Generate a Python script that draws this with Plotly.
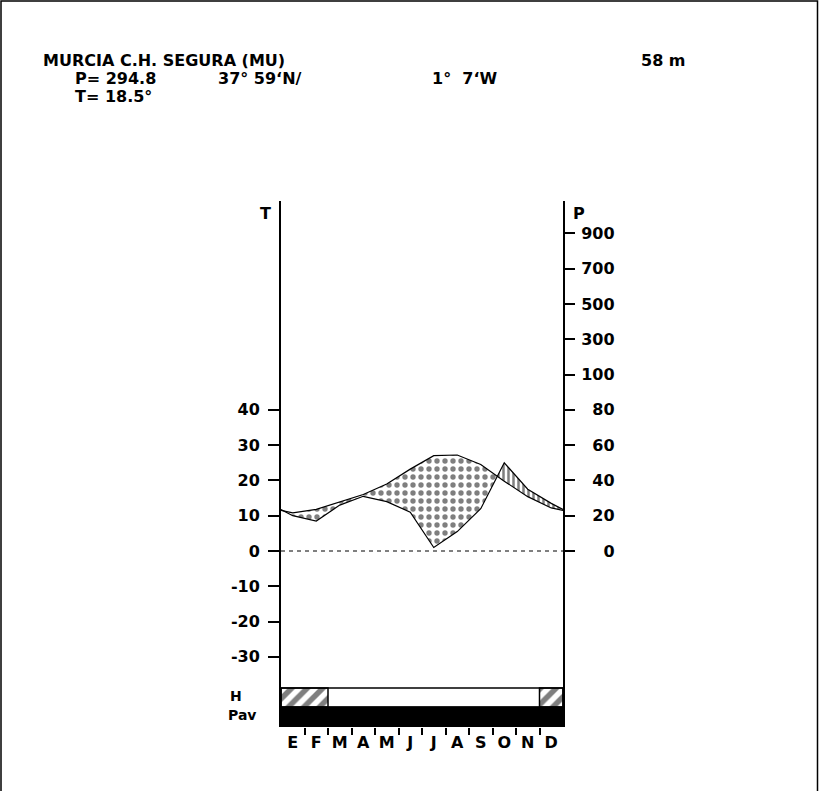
import plotly.graph_objects as go

# ---------------- data ----------------
months = ['E', 'F', 'M', 'A', 'M', 'J', 'J', 'A', 'S', 'O', 'N', 'D']
temp = [10.8, 11.8, 14.0, 16.0, 19.0, 23.2, 27.0, 27.2, 24.5, 19.8, 15.4, 12.2]   # °C
prec = [20, 17, 26, 31, 28, 22, 2, 11, 24, 50, 35, 27]                         # mm
h_flags = [1, 1, 0, 0, 0, 0, 0, 0, 0, 0, 0, 1]      # H band (hatched months)
pav_flags = [1, 1, 1, 1, 1, 1, 1, 1, 1, 1, 1, 1]    # Pav band (black months)
t_ticks = [40, 30, 20, 10, 0, -10, -20, -30]
t_labels = ['40', '30', '20', '10', '0', '-10', '-20', '-30']
p_ticks = [0, 20, 40, 60, 80, 100, 300, 500, 700, 900]
p_labels = ['0', '20', '40', '60', '80', '100', '300', '500', '700', '900']
station = 'MURCIA C.H. SEGURA (MU)'
altitude = '58 m'
p_total = 'P= 294.8'
lat = '37° 59‘N/'
lon = '1°  7‘W'
t_mean = 'T= 18.5°'

# ---------------- geometry (pixels) ----------------
W, H = 820, 791
X0, X1 = 281, 563          # plot left / right
YT, YB = 201, 727          # plot top / bottom
PXU = 3.529                # px per °C
Y_ZERO = 551
T_TOP = (Y_ZERO - YT) / PXU
T_BOT = (Y_ZERO - YB) / PXU
H_TOP = (Y_ZERO - 688) / PXU
H_BOT = (Y_ZERO - 707) / PXU


def px(x):
    return (x - X0) / (X1 - X0)


def py(y):
    return (YB - y) / (YB - YT)


def p_to_t(p):
    return p / 2.0 if p <= 100 else 50 + (p - 100) / 20.0


# curve x positions: edges + month centres
xs = [0.0] + [i + 0.5 for i in range(12)] + [12.0]
T = [(temp[0] + temp[-1]) / 2] + temp + [(temp[0] + temp[-1]) / 2]
P2 = [p_to_t((prec[0] + prec[-1]) / 2)] + [p_to_t(p) for p in prec] + [p_to_t((prec[0] + prec[-1]) / 2)]

# merge grid with crossings
gx, gt, gp = [], [], []
for i in range(len(xs)):
    gx.append(xs[i]); gt.append(T[i]); gp.append(P2[i])
    if i < len(xs) - 1:
        d0 = T[i] - P2[i]
        d1 = T[i + 1] - P2[i + 1]
        if d0 * d1 < 0:
            f = d0 / (d0 - d1)
            xc = xs[i] + f * (xs[i + 1] - xs[i])
            tc = T[i] + f * (T[i + 1] - T[i])
            gx.append(xc); gt.append(tc); gp.append(tc)
lo = [min(a, b) for a, b in zip(gt, gp)]

fig = go.Figure()

# dry area (dots)
fig.add_trace(go.Scatter(x=gx, y=lo, mode='lines', line=dict(width=0), hoverinfo='skip', showlegend=False))
fig.add_trace(go.Scatter(x=gx, y=gt, mode='lines', line=dict(width=0), fill='tonexty',
                         fillcolor='rgba(0,0,0,0)',
                         fillpattern=dict(shape='.', fgcolor='black', bgcolor='white', size=8, solidity=0.35),
                         hoverinfo='skip', showlegend=False))
# humid area (vertical lines)
fig.add_trace(go.Scatter(x=gx, y=lo, mode='lines', line=dict(width=0), hoverinfo='skip', showlegend=False))
fig.add_trace(go.Scatter(x=gx, y=gp, mode='lines', line=dict(width=0), fill='tonexty',
                         fillcolor='rgba(0,0,0,0)',
                         fillpattern=dict(shape='|', fgcolor='black', bgcolor='white', size=5, solidity=0.5),
                         hoverinfo='skip', showlegend=False))
# curves
fig.add_trace(go.Scatter(x=xs, y=T, mode='lines', line=dict(color='black', width=1.2), showlegend=False, name='T'))
fig.add_trace(go.Scatter(x=xs, y=P2, mode='lines', line=dict(color='black', width=1.2), showlegend=False,
                         name='P', yaxis='y2'))


def runs(flags):
    out = []
    start = None
    for i, f in enumerate(flags + [0]):
        if f and start is None:
            start = i
        if not f and start is not None:
            out.append((start, i))
            start = None
    return out


# Pav band
for a, b in runs(pav_flags):
    fig.add_trace(go.Scatter(x=[a, b, b, a, a], y=[T_BOT, T_BOT, H_BOT, H_BOT, T_BOT], mode='lines',
                             fill='toself', fillcolor='black', line=dict(color='black', width=1),
                             hoverinfo='skip', showlegend=False))
# H band hatched runs
for a, b in runs(h_flags):
    fig.add_trace(go.Scatter(x=[a, b, b, a, a], y=[H_BOT, H_BOT, H_TOP, H_TOP, H_BOT], mode='lines',
                             fill='toself', fillcolor='white',
                             fillpattern=dict(shape='/', fgcolor='black', bgcolor='white', size=11, solidity=0.5),
                             line=dict(color='black', width=1.5), hoverinfo='skip', showlegend=False))

shapes = [
    dict(type='rect', xref='x', yref='y', x0=0, x1=12, y0=H_BOT, y1=H_TOP,
         line=dict(color='black', width=1.5), fillcolor='rgba(0,0,0,0)'),
    dict(type='line', xref='x', yref='y', x0=0, x1=12, y0=0, y1=0,
         line=dict(color='black', width=1, dash='4px,4px')),
    dict(type='rect', xref='paper', yref='paper', x0=px(1), x1=px(817.5), y0=py(1), y1=py(830),
         line=dict(color='black', width=1.5), fillcolor='rgba(0,0,0,0)', layer='above'),
]

fnt = dict(family='DejaVu Sans', size=16, color='black', weight='bold')
ann = []


def add_text(text, x, y, anchor='left', size=16):
    f = dict(fnt); f['size'] = size
    ann.append(dict(text=text, x=px(x), y=py(y), xref='paper', yref='paper', showarrow=False,
                    xanchor=anchor, yanchor='middle', font=f, borderpad=0))


add_text(station, 42, 60)
add_text(altitude, 640, 60)
add_text(p_total, 74, 78)
add_text(lat, 217, 78)
add_text(lon, 431, 78)
add_text(t_mean, 74, 96)
add_text('T', 272, 213, 'right')
add_text('P', 572, 213, 'left')
add_text('H', 229, 696, 'left', size=14)
add_text('Pav', 227, 715, 'left', size=14)

yr = [T_BOT, T_TOP]
fig.update_layout(
    width=W, height=H, autosize=False,
    margin=dict(l=X0, r=W - X1, t=YT, b=H - YB, pad=0),
    paper_bgcolor='white', plot_bgcolor='white',
    font=fnt, showlegend=False,
    shapes=shapes, annotations=ann,
    xaxis=dict(range=[0, 12], showgrid=False, zeroline=False, showline=False,
               tickvals=[i + 0.5 for i in range(12)], ticktext=months, ticks='',
               ticklabelstandoff=4,
               minor=dict(tickvals=list(range(1, 12)), ticks='outside', ticklen=7,
                          tickwidth=1.5, tickcolor='black', showgrid=False),
               fixedrange=True),
    yaxis=dict(range=yr, showgrid=False, zeroline=False, showline=True, linecolor='black', linewidth=2,
               tickvals=t_ticks, ticktext=t_labels, ticks='outside', ticklen=11, tickwidth=2,
               tickcolor='black', ticklabelstandoff=5, fixedrange=True),
    yaxis2=dict(range=yr, overlaying='y', side='right', showgrid=False, zeroline=False, showline=True,
                linecolor='black', linewidth=2,
                tickvals=[p_to_t(p) for p in p_ticks],
                ticktext=['\u2007' * (3 - len(s)) + s for s in p_labels],
                ticks='outside', ticklen=10, tickwidth=2, tickcolor='black',
                ticklabelstandoff=3, fixedrange=True),
)

fig.write_html('out.html', config={'displayModeBar': False},
               post_script="document.body.style.margin='0';")
